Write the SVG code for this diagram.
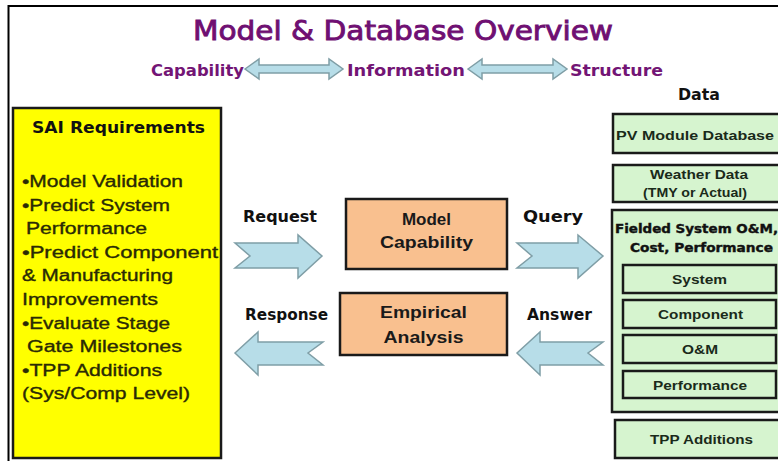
<svg xmlns="http://www.w3.org/2000/svg" width="778" height="461" viewBox="0 0 778 461">
<style>
.title{font-family:"DejaVu Sans",sans-serif;font-size:27px;fill:#6f0f72;stroke:#6f0f72;stroke-width:0.9}
.sub{font-family:"DejaVu Sans",sans-serif;font-size:16px;font-weight:bold;fill:#731575}
.lbl{font-family:"DejaVu Sans",sans-serif;font-size:15px;font-weight:bold;fill:#111}
.req{font-family:"Liberation Sans",Arial,sans-serif;font-size:16px;fill:#2a2a05;stroke:#2a2a05;stroke-width:0.35}
.hdr{font-family:"DejaVu Sans",sans-serif;font-size:15px;font-weight:bold;fill:#111}
.ctr{font-family:"Liberation Sans",Arial,sans-serif;font-size:17px;font-weight:bold;fill:#1a1a1a;text-anchor:middle}
.dat{font-family:"Liberation Sans",Arial,sans-serif;font-size:13px;font-weight:bold;fill:#1a2a1a;text-anchor:middle}
.fld{font-family:"DejaVu Sans",sans-serif;font-size:12px;font-weight:bold;fill:#111;stroke:#111;stroke-width:0.4;text-anchor:middle}
.green{fill:#d6f4cf;stroke:#1a1a1a;stroke-width:2.5}
.peach{fill:#f9c08f;stroke:#1a1a1a;stroke-width:2.5}
.arr{fill:#b7dde8;stroke:#7f9ea6;stroke-width:1.5;stroke-linejoin:miter}
</style>
<rect x="0" y="0" width="778" height="461" fill="#ffffff"/>
<path d="M8.5,470 L8.5,6 L790,6" fill="none" stroke="#000" stroke-width="2"/>
<g id="title">
<text class="title" x="193" y="40" textLength="420" lengthAdjust="spacingAndGlyphs">Model &amp; Database Overview</text>
</g>
<g id="subtitle">
<text class="sub" x="151" y="76" textLength="93" lengthAdjust="spacingAndGlyphs">Capability</text>
<text class="sub" x="347" y="76" textLength="118" lengthAdjust="spacingAndGlyphs">Information</text>
<text class="sub" x="570" y="76" textLength="93" lengthAdjust="spacingAndGlyphs">Structure</text>
</g>
<g id="data-label">
<text class="lbl" x="678" y="100" textLength="42" lengthAdjust="spacingAndGlyphs">Data</text>
</g>
<g id="sai-requirements">
<rect x="13" y="108" width="208" height="350" fill="#ffff00" stroke="#1a1a1a" stroke-width="2.5"/>
<text class="hdr" x="32" y="133" textLength="173" lengthAdjust="spacingAndGlyphs">SAI Requirements</text>
<text class="req" x="22" y="187" textLength="161" lengthAdjust="spacingAndGlyphs">•Model Validation</text>
<text class="req" x="22" y="210.6" textLength="148" lengthAdjust="spacingAndGlyphs">•Predict System</text>
<text class="req" x="26" y="234.2" textLength="121" lengthAdjust="spacingAndGlyphs">Performance</text>
<text class="req" x="22" y="257.8" textLength="196" lengthAdjust="spacingAndGlyphs">•Predict Component</text>
<text class="req" x="22" y="281.4" textLength="151" lengthAdjust="spacingAndGlyphs">&amp; Manufacturing</text>
<text class="req" x="22" y="305" textLength="136" lengthAdjust="spacingAndGlyphs">Improvements</text>
<text class="req" x="22" y="328.6" textLength="148" lengthAdjust="spacingAndGlyphs">•Evaluate Stage</text>
<text class="req" x="27" y="352.2" textLength="155" lengthAdjust="spacingAndGlyphs">Gate Milestones</text>
<text class="req" x="22" y="375.8" textLength="140" lengthAdjust="spacingAndGlyphs">•TPP Additions</text>
<text class="req" x="22" y="399.4" textLength="168" lengthAdjust="spacingAndGlyphs">(Sys/Comp Level)</text>
</g>
<g id="model-capability">
<rect class="peach" x="346" y="199" width="161" height="70"/>
<text class="ctr" x="426.5" y="225">Model</text>
<text class="ctr" x="426.5" y="248" textLength="93" lengthAdjust="spacingAndGlyphs">Capability</text>
</g>
<g id="empirical-analysis">
<rect class="peach" x="340" y="293" width="167" height="62"/>
<text class="ctr" x="423.5" y="318" textLength="87" lengthAdjust="spacingAndGlyphs">Empirical</text>
<text class="ctr" x="423.5" y="343" textLength="80" lengthAdjust="spacingAndGlyphs">Analysis</text>
</g>
<g id="pv-module-database">
<rect class="green" x="613" y="114" width="175" height="39"/>
<text class="dat" x="695" y="140" textLength="158" lengthAdjust="spacingAndGlyphs">PV Module Database</text>
</g>
<g id="weather-data">
<rect class="green" x="613" y="165" width="175" height="37"/>
<text class="dat" x="699" y="179" font-size="12" textLength="98" lengthAdjust="spacingAndGlyphs">Weather Data</text>
<text class="dat" x="695" y="197" font-size="12" textLength="104" lengthAdjust="spacingAndGlyphs">(TMY or Actual)</text>
</g>
<g id="fielded-system">
<rect class="green" x="612" y="210" width="176" height="202"/>
<text class="fld" x="696.5" y="233" textLength="163" lengthAdjust="spacingAndGlyphs">Fielded System O&amp;M,</text>
<text class="fld" x="701.5" y="252" textLength="143" lengthAdjust="spacingAndGlyphs">Cost, Performance</text>
</g>
<g id="system">
<rect class="green" x="623" y="265" width="153" height="28"/>
<text class="dat" x="699.5" y="284" textLength="55" lengthAdjust="spacingAndGlyphs">System</text>
</g>
<g id="component">
<rect class="green" x="623" y="300" width="153" height="28"/>
<text class="dat" x="700.5" y="319" textLength="85" lengthAdjust="spacingAndGlyphs">Component</text>
</g>
<g id="om">
<rect class="green" x="623" y="335" width="153" height="28"/>
<text class="dat" x="700" y="354" textLength="36" lengthAdjust="spacingAndGlyphs">O&amp;M</text>
</g>
<g id="performance">
<rect class="green" x="623" y="371" width="153" height="27"/>
<text class="dat" x="700" y="389.5" textLength="94" lengthAdjust="spacingAndGlyphs">Performance</text>
</g>
<g id="tpp-additions">
<rect class="green" x="615" y="420" width="173" height="38"/>
<text class="dat" x="701.5" y="444" textLength="103" lengthAdjust="spacingAndGlyphs">TPP Additions</text>
</g>
<g id="connectors">
<path class="arr" d="M245,69 L259,59 L259,65 L329,65 L329,59 L343,69 L329,79 L329,73 L259,73 L259,79 Z"/>
<path class="arr" d="M468,69 L482,59 L482,65 L553,65 L553,59 L567,69 L553,79 L553,73 L482,73 L482,79 Z"/>
<path class="arr" d="M235,243 L298,243 L298,235 L322,256 L298,278 L298,268 L235,268 L250,256 Z"/>
<path class="arr" d="M517,243 L578,243 L578,235 L603,256 L578,278 L578,268 L517,268 L532,256 Z"/>
<path class="arr" d="M235,353 L258,332 L258,342 L323,342 L308,353 L323,365 L258,365 L258,375 Z"/>
<path class="arr" d="M517,353 L540,332 L540,342 L603,342 L588,353 L603,365 L540,365 L540,375 Z"/>
<text class="lbl" x="243" y="222" textLength="74" lengthAdjust="spacingAndGlyphs">Request</text>
<text class="lbl" x="523" y="222" textLength="60" lengthAdjust="spacingAndGlyphs">Query</text>
<text class="lbl" x="245" y="320" textLength="83" lengthAdjust="spacingAndGlyphs">Response</text>
<text class="lbl" x="527" y="320" textLength="65" lengthAdjust="spacingAndGlyphs">Answer</text>
</g>
</svg>
